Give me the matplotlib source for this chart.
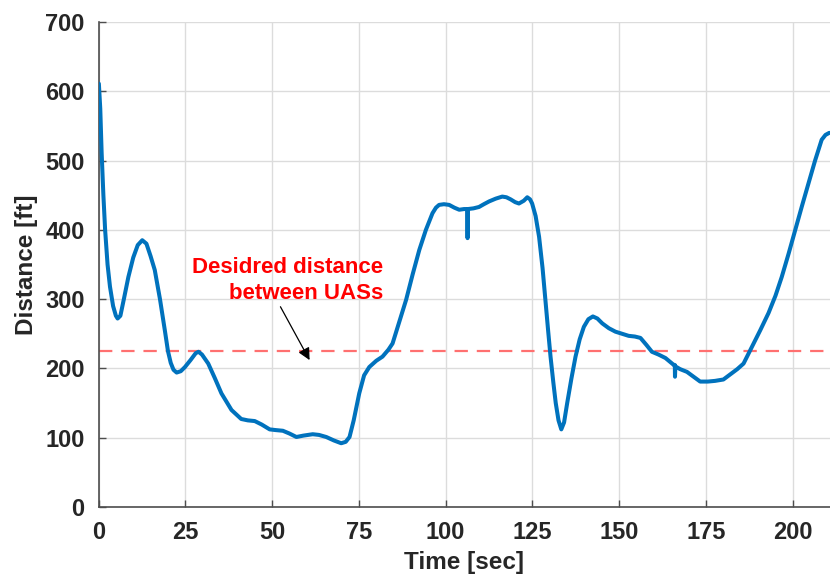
import matplotlib
matplotlib.use("Agg")
import matplotlib.pyplot as plt

plt.rcParams["font.family"] = ["Liberation Sans", "DejaVu Sans"]
plt.rcParams["font.weight"] = "bold"

# separation between the two UASs over the flight
time_sec = [0.1, 0.5, 0.9, 1.4, 1.9, 2.6, 3.3, 4.2, 5.0, 5.5, 6.3, 7.3, 8.6,
            10.0, 11.3, 12.6, 13.8, 15.0, 16.2, 17.7, 19.1, 20.0, 20.8, 21.6,
            22.5, 23.7, 24.9, 26.5, 28.0, 28.8, 29.8, 31.6, 33.5, 35.4, 38.3,
            41.1, 43.0, 45.0, 47.0, 49.3, 51.0, 53.1, 55.0, 57.0, 59.0, 61.7,
            63.5, 65.6, 67.8, 69.9, 71.2, 72.3, 73.5, 75.1, 76.5, 78.0, 80.0,
            81.8, 83.5, 84.7, 86.5, 88.6, 90.5, 92.4, 94.3, 96.2, 97.2, 98.1,
            99.5, 101.0, 102.5, 103.9, 105.3, 106.2, 106.3, 106.4, 108.0,
            109.6, 111.0, 112.5, 114.4, 116.3, 117.5, 118.7, 120.0, 121.1,
            122.5, 123.5, 124.3, 124.9, 125.9, 126.9, 127.9, 128.8, 129.5,
            130.2, 131.0, 131.7, 132.5, 133.3, 134.1, 135.0, 136.2, 137.4,
            138.6, 139.8, 141.1, 142.4, 143.7, 145.1, 147.0, 148.9, 150.8,
            152.7, 154.5, 156.1, 157.8, 159.4, 161.3, 163.3, 165.7, 166.0,
            166.05, 166.15, 167.5, 169.5, 171.4, 173.3, 175.5, 177.6, 180.0,
            182.4, 184.0, 185.8, 188.2, 190.6, 193.0, 195.0, 196.8, 198.8,
            200.7, 202.6, 204.5, 206.4, 208.3, 209.4, 210.5]
distance_ft = [611, 575, 511, 450, 400, 350, 318, 290, 276, 272, 276, 300, 332,
               360, 378, 385, 380, 362, 342, 300, 255, 225, 208, 198,
               194, 196, 202, 212, 222, 224, 220, 207, 186, 164, 140,
               127, 125, 124, 119, 112, 111, 110, 106, 101, 103, 105,
               104, 101, 96, 92, 94, 101, 125, 164, 190, 202, 211,
               217, 227, 236, 265, 299, 336, 371, 400, 424, 432, 436,
               437, 436, 432, 429, 430, 430, 388, 430, 431,
               433, 437, 441, 445, 448, 447, 444, 440, 438,
               442, 447, 444, 438, 420, 390, 345, 294, 255,
               217, 180, 150, 125, 112, 122, 150, 185, 217,
               242, 260, 271, 275, 272, 265, 258, 253, 250,
               247, 246, 244, 234, 224, 220, 215, 205, 205,
               188, 203, 199, 195, 188, 181, 181, 182, 184,
               193, 199, 207, 231, 255, 280, 305, 332, 366,
               400, 434, 467, 500, 530, 537, 540]

desired_ft = 225
note_text = "Desidred distance\nbetween UASs"

fig = plt.figure(figsize=(8.30, 5.83), dpi=100)
ax = fig.add_axes([0.1187, 0.1304, 0.8813, 0.8319])

ax.plot(time_sec, distance_ft, color="#0072BD", lw=2.9, solid_joinstyle="round",
        solid_capstyle="round", zorder=3)
ax.axhline(desired_ft, color="#FF7070", lw=1.6, dashes=(6, 4), zorder=2)

ax.annotate("", xy=(60.8, 212), xytext=(52.4, 289),
            arrowprops=dict(arrowstyle="-|>", color="black", lw=0.9,
                            mutation_scale=18, shrinkA=0, shrinkB=0))
ax.text(82.0, 327, note_text, color="red", fontsize=16, fontweight="bold",
        ha="right", va="center", multialignment="right", linespacing=1.35)

ax.set_xlim(0, 210.7)
ax.set_ylim(0, 700)
ax.set_xticks(range(0, 201, 25))
ax.set_yticks(range(0, 701, 100))
ax.grid(True, color="#DCDCDC", lw=1.0)
ax.set_axisbelow(True)

for side in ("top", "right"):
    ax.spines[side].set_visible(False)
for side in ("left", "bottom"):
    ax.spines[side].set_color("#4D4D4D")
    ax.spines[side].set_linewidth(1.2)

ax.tick_params(direction="in", length=5, width=1.0, color="#4D4D4D",
               labelsize=17, labelcolor="#262626", pad=10)
for lab in ax.get_xticklabels() + ax.get_yticklabels():
    lab.set_fontweight("bold")

ax.set_xlabel("Time [sec]", fontsize=17.5, fontweight="bold", color="#262626",
              labelpad=5)
ax.set_ylabel("Distance [ft]", fontsize=17.5, fontweight="bold", color="#262626",
              labelpad=5)

fig.savefig("out.png", dpi=100)
